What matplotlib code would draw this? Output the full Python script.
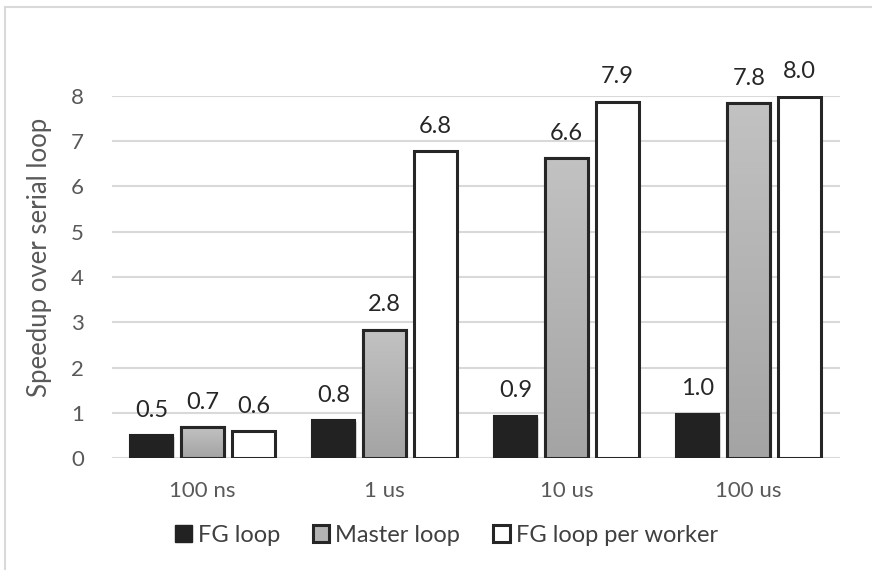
import numpy as np
import matplotlib
matplotlib.use("Agg")
import matplotlib.pyplot as plt
from matplotlib.lines import Line2D
from matplotlib.patches import Patch
import matplotlib.patheffects as pe

plt.rcParams['font.family'] = ['Lato', 'DejaVu Sans']

# speedup per loop granularity
categories = ['100 ns', '1 us', '10 us', '100 us']
fg_loop = [0.51, 0.84, 0.94, 0.98]
master_loop = [0.69, 2.84, 6.62, 7.84]
fg_per_worker = [0.60, 6.78, 7.87, 7.98]
series_names = ['FG loop', 'Master loop', 'FG loop per worker']
y_ticks = [0, 1, 2, 3, 4, 5, 6, 7, 8]

fig = plt.figure(figsize=(8.72, 5.70), dpi=100)
ax = fig.add_axes([0.128, 0.196, 0.835, 0.636])

x = np.arange(len(categories))
step = 0.28
width = 0.236
edge = '#262626'
shadow = [pe.SimplePatchShadow(offset=(1.5, -1.5), shadow_rgbFace='#999999', alpha=0.35), pe.Normal()]

b1 = ax.bar(x - step, fg_loop, width, color='#222222', edgecolor='#222222', linewidth=1.5, zorder=3)
b2 = ax.bar(x, master_loop, width, color='#b3b3b3', edgecolor=edge, linewidth=2.2, zorder=3)
b3 = ax.bar(x + step, fg_per_worker, width, color='white', edgecolor=edge, linewidth=2.2, zorder=3)
for bars in (b1, b2, b3):
    for b in bars:
        b.set_path_effects(shadow)

# vertical gradient inside the grey bars, lighter at the top
grad = np.linspace(0, 1, 256).reshape(-1, 1)
cmap = matplotlib.colors.LinearSegmentedColormap.from_list('g', ['#a4a4a4', '#c2c2c2'])
for b in b2:
    x0, y0 = b.get_x(), b.get_y()
    im = ax.imshow(grad, cmap=cmap, aspect='auto', zorder=3.5, origin='lower',
                   extent=(x0, x0 + b.get_width(), y0, y0 + b.get_height()))
    im.set_clip_path(b)
    ax.bar(x0 + b.get_width() / 2, b.get_height(), b.get_width(), fill=False,
           edgecolor=edge, linewidth=2.2, zorder=4)

# value labels above each bar
for bars, vals in ((b1, fg_loop), (b2, master_loop), (b3, fg_per_worker)):
    for b, v in zip(bars, vals):
        ax.text(b.get_x() + b.get_width() / 2, v + 0.32, f'{v:.1f}', ha='center', va='bottom',
                fontsize=17, color='#262626', clip_on=False, zorder=5)

ax.set_xlim(-0.5, len(categories) - 0.5)
ax.set_ylim(0, 8)
ax.set_yticks(y_ticks)
ax.set_xticks(x)
ax.set_xticklabels(categories)
ax.grid(axis='y', color='#d9d9d9', linewidth=1.5, zorder=0)
ax.set_axisbelow(True)
ax.tick_params(axis='x', length=0, labelsize=16, labelcolor='#595959', pad=16)
ax.tick_params(axis='y', length=0, labelsize=16, labelcolor='#595959', pad=20)
for s in ax.spines.values():
    s.set_visible(False)
ax.set_ylabel('Speedup over serial loop', fontsize=18.5, color='#595959')
ax.yaxis.set_label_coords(-0.082, 0.555)

handles = [Patch(facecolor='#222222', edgecolor='#222222'),
           Patch(facecolor='#b3b3b3', edgecolor=edge, linewidth=2.2),
           Patch(facecolor='white', edgecolor=edge, linewidth=2.2)]
fig.legend(handles, series_names, loc='center', bbox_to_anchor=(0.512, 0.061), ncol=3,
           frameon=False, fontsize=17, handlelength=0.7, handleheight=0.7,
           handletextpad=0.25, columnspacing=1.4, labelcolor='#404040')

# outer chart frame
fig.add_artist(Line2D([0.006, 0.006], [0, 0.988], color='#d9d9d9', linewidth=1.5))
fig.add_artist(Line2D([0.006, 1.0], [0.988, 0.988], color='#d9d9d9', linewidth=1.5))

fig.savefig('out.png', dpi=100)
